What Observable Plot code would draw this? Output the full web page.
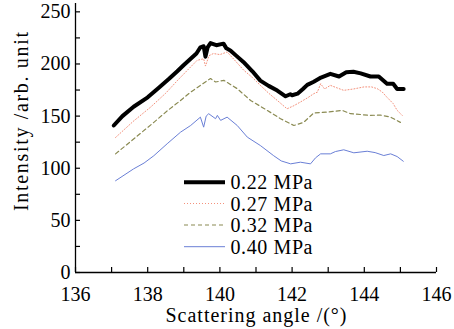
<!DOCTYPE html>
<html><head><meta charset="utf-8">
<script src="https://cdn.jsdelivr.net/npm/d3@7"></script>
<script src="https://cdn.jsdelivr.net/npm/@observablehq/plot@0.6"></script>
<style>body{margin:0;background:#fff}#chart{width:454px;height:329px}
#chart svg, #chart svg text{font-family:"Liberation Serif","DejaVu Serif",serif !important}</style>
</head><body><div id="chart"></div>
<script>
// ---- data ----
const seriesNames = ["0.22 MPa", "0.27 MPa", "0.32 MPa", "0.40 MPa"];

const x022 = [137.06,137.3,137.61,138.0,138.3,138.6,138.82,139.0,139.19,139.35,139.46,139.55,139.6,139.66,139.74,139.9,140.1,140.18,140.29,140.45,140.65,140.9,141.12,141.35,141.59,141.82,141.95,142.0,142.15,142.3,142.42,142.6,142.8,143.06,143.3,143.5,143.7,143.9,144.17,144.4,144.63,144.8,144.91,145.09];
const y022 = [141,150,159,168,177,186,193,199,205,210,216,217,207,216,220,218,219.5,215,213,208,202,193,184,179,174.5,169,171,170,171.5,176,180,183,187,190.5,188,192,192.5,191,188,188,181,181,176,176];

const x027 = [137.11,137.6,138.08,138.5,138.82,139.1,139.37,139.55,139.6,139.7,139.82,140.0,140.2,140.4,140.66,140.9,141.12,141.35,141.59,141.86,142.05,142.23,142.45,142.6,142.7,142.79,142.9,143.06,143.25,143.43,143.7,143.99,144.2,144.36,144.5,144.63,144.8,144.91,145.05];
const y027 = [129.5,145,158.6,172,184,194,203.5,205,198,208,210,209,211.5,204,194,187,179.5,172,165,157,160,163.5,168,171.5,173,181,176,179.5,177,174.7,176,178,178,176.3,173,168,162,155.5,150.7];

const x032 = [137.11,137.61,138.17,138.54,138.91,139.19,139.46,139.65,139.74,139.88,140.11,140.48,140.85,141.31,141.68,142.05,142.32,142.6,142.97,143.39,143.62,143.9,144.17,144.45,144.73,145.0];
const y032 = [113.8,128,144,155,165,173,179.5,184,186,182.7,184.3,176.3,165,155.5,147.5,141,144,153,153.8,155.5,152.3,151.5,150.7,151,149,144];

const x040 = [137.11,137.61,137.9,138.17,138.54,138.91,139.19,139.46,139.55,139.62,139.69,139.88,139.93,140.02,140.2,140.48,140.76,141.12,141.49,141.7,141.96,142.23,142.51,142.65,142.79,143.06,143.2,143.43,143.71,144.08,144.3,144.54,144.73,144.91,145.08];
const y040 = [88,99.4,105,112,123.5,134.6,141,149,139.4,150,152.3,147.5,150.7,145.9,149,141,129.8,121.8,112,107,104.2,105.8,104.2,110,113.8,113.8,116,117.7,114.8,116.3,115,112.2,113.8,111.2,106.7];

const xTicks = [136, 138, 140, 142, 144, 146];
const xMinor = [137, 139, 141, 143, 145];
const yTicks = [0, 50, 100, 150, 200, 250];
const yMinor = [25, 75, 125, 175, 225];
const xLabel = "Scattering angle /(°)";
const yLabel = "Intensity /arb. unit";

// ---- styles ----
const styles = [
  {stroke: "#000000", strokeWidth: 4, dash: null},
  {stroke: "#f4917c", strokeWidth: 1, dash: "1,2"},
  {stroke: "#8a8a52", strokeWidth: 1.2, dash: "4,3"},
  {stroke: "#6a7fd6", strokeWidth: 1, dash: null}
];

const xs = [x022, x027, x032, x040];
const ys = [y022, y027, y032, y040];
const tables = xs.map((xa, i) => xa.map((x, j) => ({x, y: ys[i][j], series: seriesNames[i]})));

const chart = Plot.plot({
  width: 454, height: 329,
  marginLeft: 75, marginRight: 18, marginTop: 3, marginBottom: 57,
  style: {fontFamily: "Liberation Serif", fontSize: "20px", color: "#000", background: "#fff", overflow: "visible"},
  x: {domain: [136, 146]},
  y: {domain: [0, 258]},
  marks: [
    Plot.axisX(xTicks, {tickSize: 0, tickPadding: 14, label: null, fontSize: 20}),
    Plot.axisY(yTicks, {tickSize: 0, tickPadding: 5, label: null, fontSize: 20}),
    Plot.ruleY([0], {stroke: "#000", strokeWidth: 1.3}),
    Plot.ruleX([136], {stroke: "#000", strokeWidth: 1.3}),
    Plot.ruleX([...xTicks, ...xMinor], {x: d => d, y1: 0, y2: 0, insetTop: -5, stroke: "#000", strokeWidth: 1.2}),
    Plot.ruleY([...yTicks, ...yMinor], {y: d => d, x1: 136, x2: 136, insetRight: -5, stroke: "#000", strokeWidth: 1.2}),
    ...tables.map((t, i) => Plot.line(t, {
      x: "x", y: "y",
      stroke: styles[i].stroke, strokeWidth: styles[i].strokeWidth,
      strokeDasharray: styles[i].dash, strokeLinejoin: "round"
    })).reverse(),
    Plot.text([xLabel], {frameAnchor: "bottom", lineAnchor: "middle", textAnchor: "middle", dy: 43, fontSize: 20, fill: "#000"}),
    Plot.text([yLabel], {frameAnchor: "left", lineAnchor: "middle", textAnchor: "middle", rotate: -90, dx: -54, dy: -16.5, fontSize: 20, fill: "#000"})
  ]
});

const svg = d3.select(chart);
// fit the labels to the reference's wider serif face
svg.selectAll("text").filter(function () { return this.textContent === xLabel; })
  .attr("textLength", 181).attr("lengthAdjust", "spacing");
svg.selectAll("text").filter(function () { return this.textContent === yLabel; })
  .attr("textLength", 179).attr("lengthAdjust", "spacing");

// legend inside plot
const leg = svg.append("g").attr("font-size", 20).attr("text-anchor", "start");
const rowY = [182.3, 203.5, 225, 246.7];
seriesNames.forEach((name, i) => {
  leg.append("line").attr("x1", 184).attr("x2", 225).attr("y1", rowY[i]).attr("y2", rowY[i])
    .attr("stroke", styles[i].stroke).attr("stroke-width", styles[i].strokeWidth)
    .attr("stroke-dasharray", styles[i].dash);
  leg.append("text").attr("x", 230.5).attr("y", rowY[i] + 7).attr("fill", "#000")
    .attr("text-anchor", "start").attr("textLength", 82).attr("lengthAdjust", "spacing").text(name);
});

document.getElementById("chart").append(chart);
</script>
</body></html>
